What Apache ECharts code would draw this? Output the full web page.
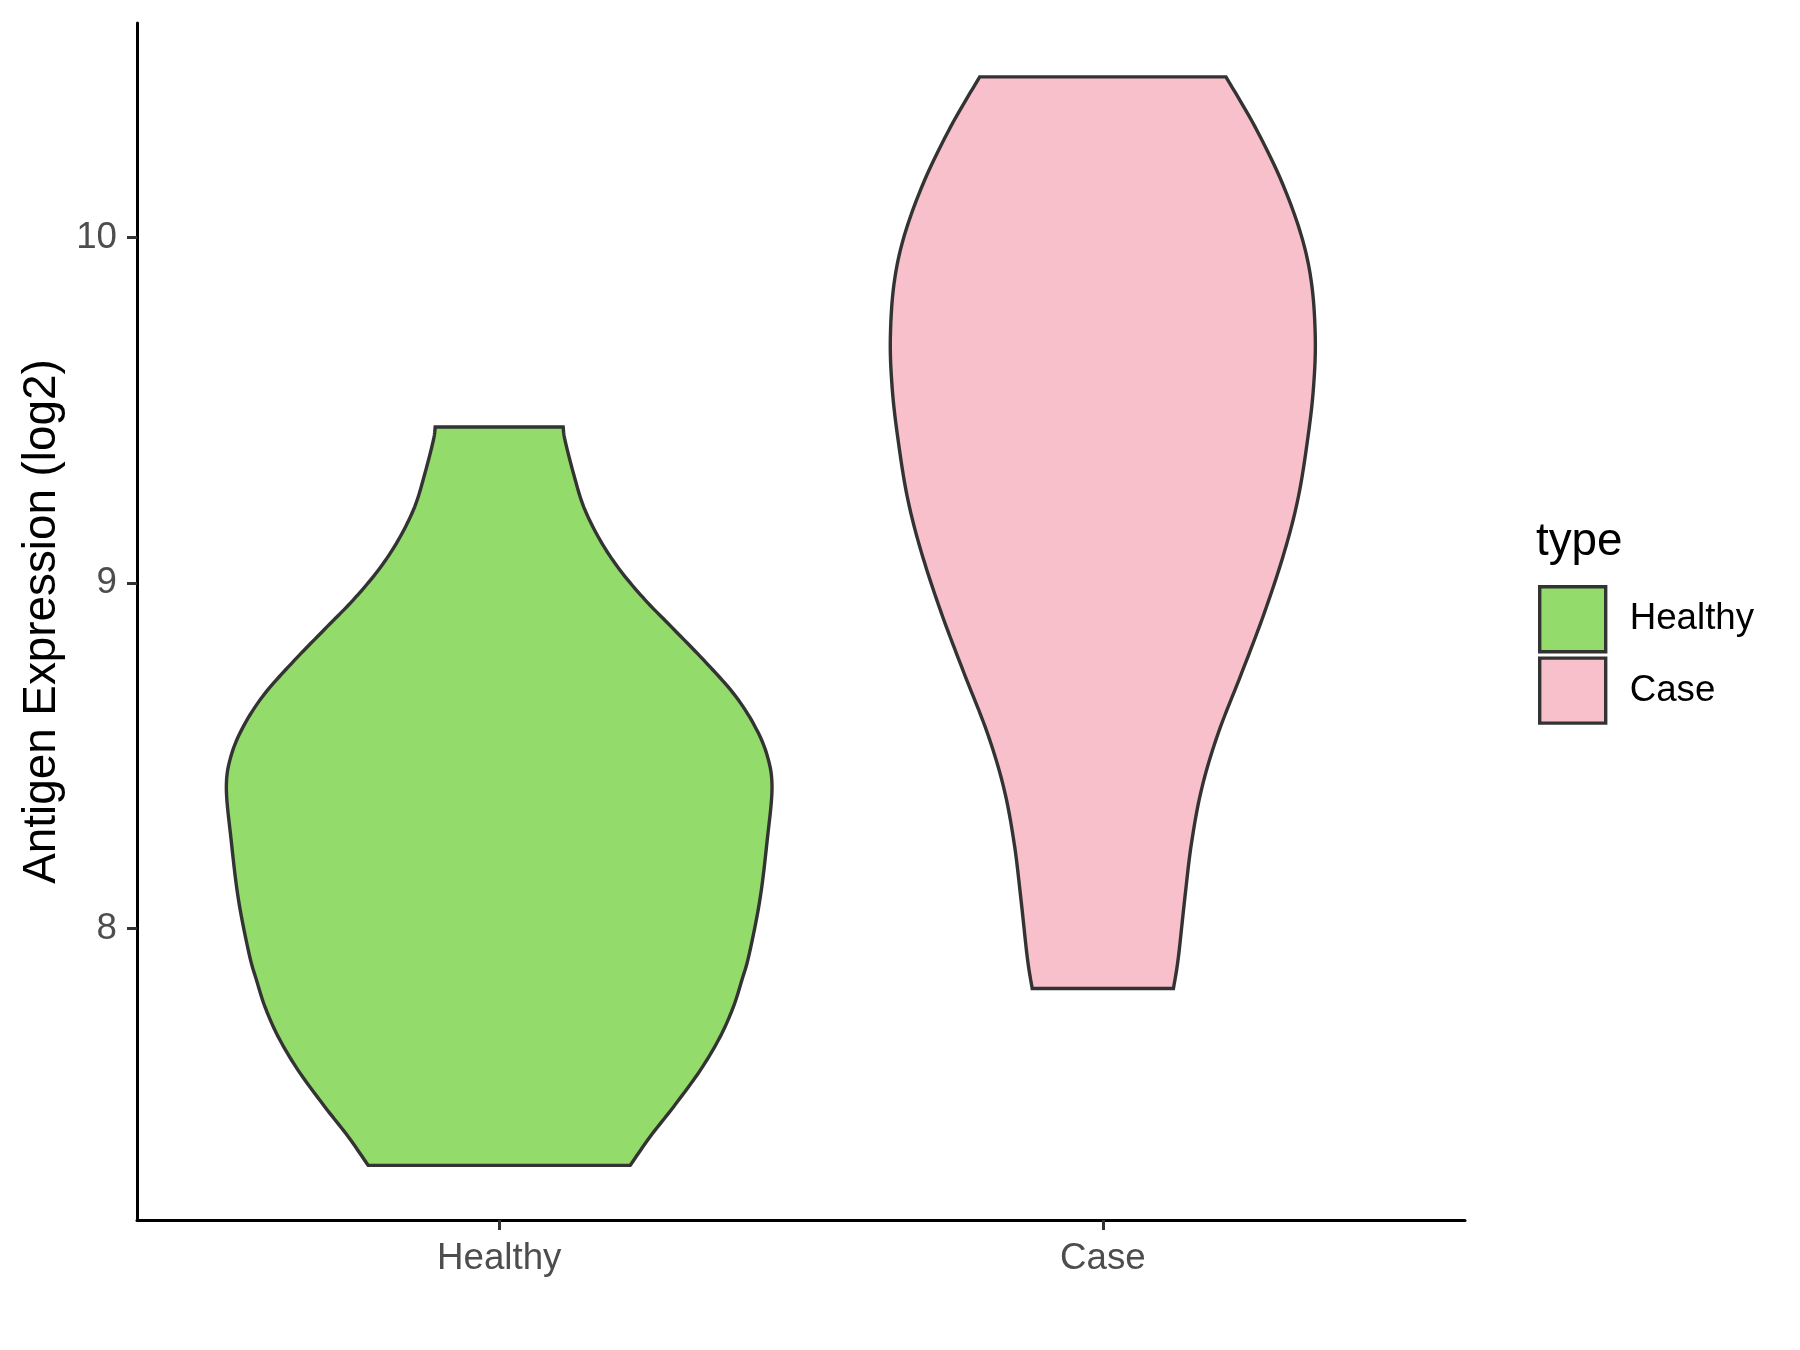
<!DOCTYPE html>
<html>
<head>
<meta charset="utf-8">
<script src="https://cdn.jsdelivr.net/npm/echarts@6/dist/echarts.min.js"></script>
<style>
  html, body { margin: 0; padding: 0; background: #fff; }
  #main { width: 1800px; height: 1350px; }
</style>
</head>
<body>
<div id="main"></div>
<script>
// categories on the x axis
var categories = ['Healthy', 'Case'];
var fillColors = ['#93DB6A', '#F7C0CB'];

// violin outlines: expression value (log2) and half width (in category units)
var healthyY = [7.315, 7.398, 7.485, 7.590, 7.687, 7.774, 7.851, 7.925, 8.085, 8.256, 8.411, 8.507, 8.594, 8.681, 8.777, 8.874, 8.951, 9.038, 9.125, 9.221, 9.318, 9.414, 9.452];
var healthyW = [0.217, 0.250, 0.289, 0.333, 0.366, 0.388, 0.402, 0.414, 0.432, 0.444, 0.452, 0.443, 0.421, 0.388, 0.339, 0.285, 0.242, 0.200, 0.167, 0.140, 0.123, 0.109, 0.106];

var caseY = [7.827, 7.915, 8.091, 8.249, 8.407, 8.565, 8.740, 8.916, 9.092, 9.250, 9.425, 9.566, 9.707, 9.865, 10.005, 10.163, 10.321, 10.465];
var caseW = [0.117, 0.125, 0.136, 0.147, 0.164, 0.191, 0.230, 0.268, 0.301, 0.324, 0.340, 0.349, 0.352, 0.346, 0.329, 0.296, 0.252, 0.204];

// tick labels
var yTicks = [8, 9, 10];
var xTicks = [1, 2];

var FONT = 'Liberation Sans, Arial, sans-serif';

// smooth a pixel polyline (catmull-rom) so the outline is drawn as a curve
function spline(pts) {
  var out = [];
  var n = pts.length;
  for (var i = 0; i < n - 1; i++) {
    var p0 = pts[Math.max(i - 1, 0)], p1 = pts[i], p2 = pts[i + 1], p3 = pts[Math.min(i + 2, n - 1)];
    for (var s = 0; s < 10; s++) {
      var t = s / 10, t2 = t * t, t3 = t2 * t;
      out.push([0, 1].map(function (k) {
        return 0.5 * ((2 * p1[k]) + (-p0[k] + p2[k]) * t +
          (2 * p0[k] - 5 * p1[k] + 4 * p2[k] - p3[k]) * t2 +
          (-p0[k] + 3 * p1[k] - 3 * p2[k] + p3[k]) * t3);
      }));
    }
  }
  out.push(pts[n - 1]);
  return out;
}

function violin(ys, ws) {
  return function (params, api) {
    var cx = api.value(0);
    var right = [], left = [];
    for (var i = 0; i < ys.length; i++) {
      right.push(api.coord([cx + ws[i], ys[i]]));
      left.push(api.coord([cx - ws[i], ys[i]]));
    }
    // right side bottom -> top, then left side top -> bottom
    var pts = spline(right).concat(spline(left).reverse());
    return {
      type: 'polygon',
      shape: { points: pts },
      style: {
        fill: fillColors[params.seriesIndex],
        stroke: '#333333',
        lineWidth: 3.4,
        lineJoin: 'miter'
      }
    };
  };
}

var myChart = echarts.init(document.getElementById('main'));
myChart.setOption({
  animation: false,
  backgroundColor: '#ffffff',
  textStyle: { fontFamily: FONT },
  title: {
    text: 'type',
    left: 1536,
    top: 519,
    padding: 0,
    textStyle: { fontSize: 45.8, fontWeight: 'normal', color: '#000', fontFamily: FONT }
  },
  legend: {
    orient: 'vertical',
    left: 1538,
    top: 585,
    padding: 0,
    itemWidth: 66,
    itemHeight: 65,
    itemGap: 3,
    icon: 'rect',
    textStyle: { fontSize: 36.7, color: '#000', fontFamily: FONT, padding: [6, 0, 0, 19] },
    data: categories.map(function (c, i) {
      return { name: c, itemStyle: { color: fillColors[i], borderColor: '#333333', borderWidth: 3.4 } };
    })
  },
  grid: {
    left: 137,
    right: 335,
    top: 23,
    bottom: 130,
    outerBoundsMode: 'none'
  },
  xAxis: {
    type: 'value',
    min: 0.4,
    max: 2.6,
    splitLine: { show: false },
    axisLine: { lineStyle: { color: '#000', width: 3 } },
    axisTick: {
      customValues: xTicks,
      length: 10,
      lineStyle: { color: '#333333', width: 3 }
    },
    axisLabel: {
      customValues: xTicks,
      margin: 20,
      fontSize: 36.7,
      color: '#4D4D4D',
      fontFamily: FONT,
      formatter: function (v) { return categories[Math.round(v) - 1]; }
    }
  },
  yAxis: {
    type: 'value',
    min: 7.157,
    max: 10.621,
    name: 'Antigen Expression (log2)',
    nameLocation: 'middle',
    nameGap: 70,
    nameTextStyle: { fontSize: 45.8, color: '#000', fontFamily: FONT },
    splitLine: { show: false },
    axisLine: { show: true, lineStyle: { color: '#000', width: 3 } },
    axisTick: {
      show: true,
      customValues: yTicks,
      length: 10,
      lineStyle: { color: '#333333', width: 3 }
    },
    axisLabel: {
      customValues: yTicks,
      margin: 20,
      fontSize: 36.7,
      color: '#4D4D4D',
      fontFamily: FONT
    }
  },
  series: [
    {
      name: 'Healthy',
      type: 'custom',
      renderItem: violin(healthyY, healthyW),
      encode: { x: 0 },
      data: [[1]]
    },
    {
      name: 'Case',
      type: 'custom',
      renderItem: violin(caseY, caseW),
      encode: { x: 0 },
      data: [[2]]
    }
  ]
});
</script>
</body>
</html>
